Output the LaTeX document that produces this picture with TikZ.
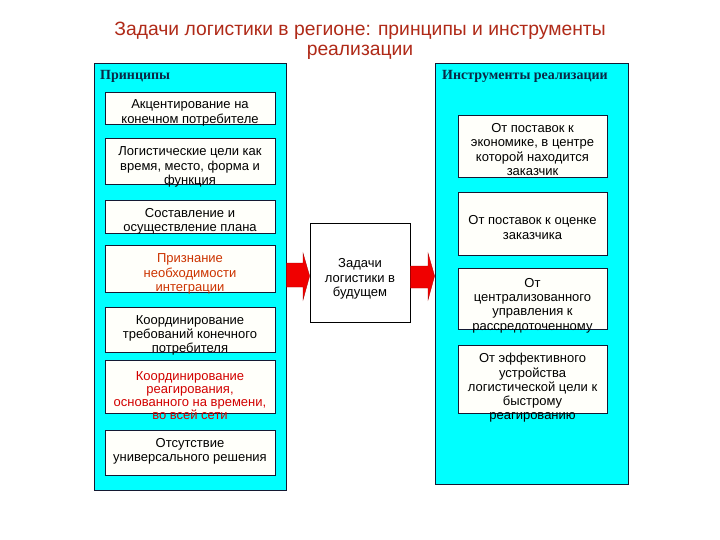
\documentclass[tikz,border=0pt]{standalone}
\usepackage{fontspec}
\setmainfont{Liberation Sans}
\newfontfamily\hdrfont{Liberation Serif}
\usetikzlibrary{calc}
\definecolor{titlered}{RGB}{176,42,24}
\definecolor{hdrblue}{RGB}{10,40,70}
\definecolor{edge}{RGB}{20,25,50}
\definecolor{boxfill}{RGB}{255,255,250}
\definecolor{panelcyan}{RGB}{0,255,255}
\definecolor{orred}{RGB}{204,51,0}
\definecolor{brred}{RGB}{210,0,0}
\definecolor{arrred}{RGB}{240,0,0}
\begin{document}
\begin{tikzpicture}[x=1pt,y=-1pt,
  panel/.style={draw=edge,fill=panelcyan,line width=0.8pt,inner sep=0pt},
  inbox/.style={draw=edge,fill=boxfill,line width=0.7pt,inner sep=0pt},
  cbox/.style={draw=black,fill=white,line width=0.7pt,inner sep=0pt},
  txt/.style={align=center,inner sep=0pt,font=\fontsize{13}{14.3}\selectfont},
  hdr/.style={inner sep=0pt,font=\hdrfont\bfseries\fontsize{14}{16}\selectfont,text=hdrblue},
  bigarrow/.style={fill=arrred,draw=arrred!70!black,line width=0.3pt}]
\useasboundingbox (0,0) rectangle (720,540);
\fill[white] (0,0) rectangle (720,540);

% title
\node[align=center,inner sep=0pt,text=titlered,font=\fontsize{19.3}{20.5}\selectfont] (title) at (360,41)
  {Задачи логистики в регионе: принципы и инструменты\\реализации};

% panels
\node[panel,minimum width=192pt,minimum height=427pt] (P) at (190,276.5) {};
\node[panel,minimum width=193pt,minimum height=421pt] (I) at (531.5,273.5) {};
\node[hdr,anchor=west] (Ph) at (100,76.5) {Принципы};
\node[hdr] (Ih) at (525,76.5) {Инструменты реализации};

% left boxes
\node[inbox,minimum width=170pt,minimum height=32pt] (L1) at (190,108) {};
\node[inbox,minimum width=170pt,minimum height=46pt] (L2) at (190,161) {};
\node[inbox,minimum width=170pt,minimum height=33pt] (L3) at (190,216.5) {};
\node[inbox,minimum width=170pt,minimum height=47pt] (L4) at (190,268.5) {};
\node[inbox,minimum width=170pt,minimum height=45pt] (L5) at (190,329.5) {};
\node[inbox,minimum width=170pt,minimum height=53pt] (L6) at (190,386.5) {};
\node[inbox,minimum width=170pt,minimum height=45pt] (L7) at (190,452.5) {};

\node[txt] (t1) at ($(L1.center)+(0,5)$) {Акцентирование на\\конечном потребителе};
\node[txt] (t2) at ($(L2.center)+(0,6)$) {Логистические цели как\\время, место, форма и\\функция};
\node[txt] (t3) at ($(L3.center)+(0,4.5)$) {Составление и\\осуществление плана};
\node[txt,text=orred] (t4) at ($(L4.center)+(0,5.5)$) {Признание\\необходимости\\интеграции};
\node[txt] (t5) at ($(L5.center)+(0,6)$) {Координирование\\требований конечного\\потребителя};
\node[txt,text=brred,anchor=north,font=\fontsize{13}{13.2}\selectfont] (t6) at ($(L6.north)+(0,11.5)$) {Координирование\\реагирования,\\основанного на времени,\\во всей сети};
\node[txt] (t7) at ($(L7.center)+(0,-1.5)$) {Отсутствие\\универсального решения};

% centre box
\node[cbox,minimum width=100pt,minimum height=99pt] (C) at (360,272.5) {};
\node[txt] (tc) at ($(C.center)+(0,6.5)$) {Задачи\\логистики в\\будущем};

% right boxes
\node[inbox,minimum width=149pt,minimum height=62pt] (R1) at (532.5,146) {};
\node[inbox,minimum width=149pt,minimum height=63pt] (R2) at (532.5,223.5) {};
\node[inbox,minimum width=149pt,minimum height=61pt] (R3) at (532.5,298.5) {};
\node[inbox,minimum width=149pt,minimum height=68pt] (R4) at (532.5,379) {};

\node[txt] (r1) at ($(R1.center)+(0,3.5)$) {От поставок к\\экономике, в центре\\которой находится\\заказчик};
\node[txt] (r2) at ($(R2.center)+(0,4)$) {От поставок к оценке\\заказчика};
\node[txt] (r3) at ($(R3.center)+(0,7)$) {От\\централизованного\\управления к\\рассредоточенному};
\node[txt,anchor=north] (r4) at ($(R4.north)+(0,8.5)$) {От эффективного\\устройства\\логистической цели к\\быстрому\\реагированию};

% arrows
\fill[bigarrow] (P.east |- 0,263) -- (303,263) -- (303,253) -- (C.west |- 0,276) -- (303,300) -- (303,287) -- (P.east |- 0,287) -- cycle;
\fill[bigarrow] (C.east |- 0,266) -- (428,266) -- (428,253) -- (I.west |- 0,276) -- (428,300) -- (428,288) -- (C.east |- 0,288) -- cycle;
\end{tikzpicture}
\end{document}
